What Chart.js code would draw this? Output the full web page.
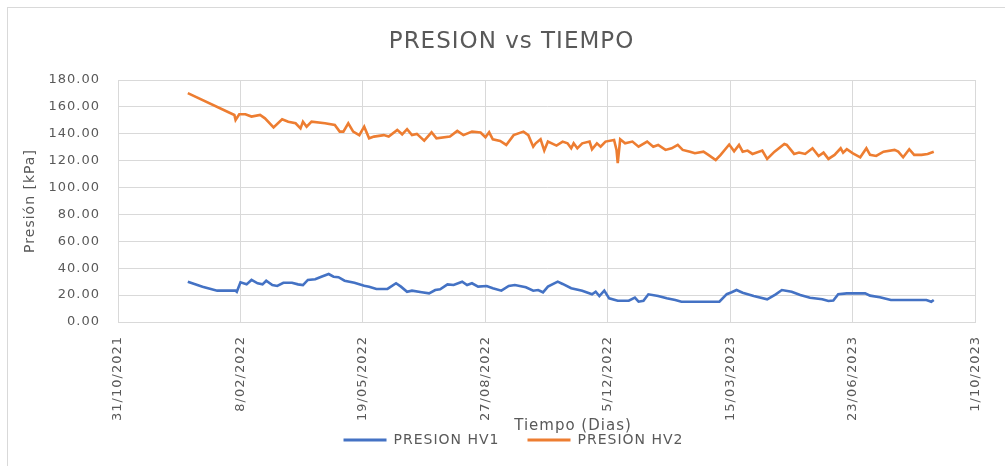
<!DOCTYPE html>
<html lang="es">
<head>
<meta charset="utf-8">
<title>PRESION vs TIEMPO</title>
<script src="https://cdn.jsdelivr.net/npm/chart.js@4.4.1/dist/chart.umd.min.js"></script>
<style>
  html, body { margin: 0; padding: 0; background: #ffffff; }
  #grafico { display: block; }
</style>
</head>
<body>
<canvas id="grafico" width="1005" height="466"></canvas>
<script>
// Fecha de origen del eje X y etiquetas cada 100 días
const fechaOrigen = '31/10/2021';
const etiquetasX = ['31/10/2021', '8/02/2022', '19/05/2022', '27/08/2022',
                    '5/12/2022', '15/03/2023', '23/06/2023', '1/10/2023'];

// PRESION HV1 [kPa]
const hv1Fechas = [
  '27/12/2021', '08/01/2022', '20/01/2022', '04/02/2022', '05/02/2022', '08/02/2022',
  '13/02/2022', '17/02/2022', '22/02/2022', '26/02/2022', '01/03/2022', '06/03/2022',
  '10/03/2022', '15/03/2022', '22/03/2022', '27/03/2022', '31/03/2022', '04/04/2022',
  '10/04/2022', '15/04/2022', '21/04/2022', '25/04/2022', '29/04/2022', '04/05/2022',
  '12/05/2022', '20/05/2022', '24/05/2022', '30/05/2022', '08/06/2022', '15/06/2022',
  '19/06/2022', '24/06/2022', '28/06/2022', '06/07/2022', '12/07/2022', '17/07/2022',
  '21/07/2022', '27/07/2022', '01/08/2022', '08/08/2022', '12/08/2022', '16/08/2022',
  '21/08/2022', '28/08/2022', '02/09/2022', '09/09/2022', '15/09/2022', '20/09/2022',
  '29/09/2022', '05/10/2022', '09/10/2022', '13/10/2022', '17/10/2022', '25/10/2022',
  '29/10/2022', '05/11/2022', '14/11/2022', '22/11/2022', '25/11/2022', '28/11/2022',
  '02/12/2022', '06/12/2022', '13/12/2022', '22/12/2022', '27/12/2022', '30/12/2022',
  '03/01/2023', '07/01/2023', '15/01/2023', '22/01/2023', '29/01/2023', '03/02/2023',
  '06/03/2023', '12/03/2023', '16/03/2023', '20/03/2023', '25/03/2023', '03/04/2023',
  '14/04/2023', '21/04/2023', '26/04/2023', '04/05/2023', '11/05/2023', '19/05/2023',
  '29/05/2023', '03/06/2023', '07/06/2023', '11/06/2023', '18/06/2023', '03/07/2023',
  '07/07/2023', '15/07/2023', '24/07/2023', '22/08/2023', '26/08/2023', '28/08/2023'
];
const hv1Valores = [
  30.0, 26.3, 23.3, 23.3, 22.5, 29.5,
  28.0, 31.3, 28.8, 28.0, 30.7, 27.5,
  26.8, 29.2, 29.2, 28.0, 27.5, 31.3,
  31.8, 33.7, 35.7, 33.7, 33.3, 30.7,
  29.2, 27.0, 26.3, 24.6, 24.6, 28.8,
  26.3, 22.5, 23.3, 22.1, 21.3, 23.8,
  24.3, 28.0, 27.5, 30.0, 27.5, 28.8,
  26.3, 26.8, 25.1, 23.3, 26.8, 27.5,
  25.8, 23.3, 23.8, 22.1, 26.3, 30.0,
  28.3, 25.1, 23.3, 20.6, 22.5, 19.3,
  23.3, 17.6, 15.8, 15.8, 18.1, 15.1,
  15.8, 20.6, 19.3, 17.6, 16.4, 15.1,
  15.1, 20.7, 22.1, 23.8, 21.8, 19.3,
  16.9, 20.6, 23.8, 22.5, 20.1, 18.1,
  16.9, 15.6, 16.0, 20.6, 21.3, 21.3,
  19.6, 18.4, 16.4, 16.4, 15.1, 16.4
];

// PRESION HV2 [kPa]
const hv2Fechas = [
  '27/12/2021', '03/02/2022', '04/02/2022', '07/02/2022', '12/02/2022', '17/02/2022',
  '24/02/2022', '28/02/2022', '07/03/2022', '14/03/2022', '19/03/2022', '25/03/2022',
  '29/03/2022', '31/03/2022', '03/04/2022', '07/04/2022', '18/04/2022', '26/04/2022',
  '30/04/2022', '03/05/2022', '07/05/2022', '11/05/2022', '16/05/2022', '20/05/2022',
  '24/05/2022', '28/05/2022', '05/06/2022', '09/06/2022', '16/06/2022', '20/06/2022',
  '24/06/2022', '28/06/2022', '02/07/2022', '08/07/2022', '14/07/2022', '18/07/2022',
  '29/07/2022', '04/08/2022', '09/08/2022', '16/08/2022', '23/08/2022', '27/08/2022',
  '30/08/2022', '02/09/2022', '08/09/2022', '13/09/2022', '19/09/2022', '27/09/2022',
  '01/10/2022', '05/10/2022', '07/10/2022', '11/10/2022', '14/10/2022', '17/10/2022',
  '24/10/2022', '29/10/2022', '02/11/2022', '05/11/2022', '07/11/2022', '10/11/2022',
  '14/11/2022', '20/11/2022', '22/11/2022', '26/11/2022', '29/11/2022', '03/12/2022',
  '10/12/2022', '12/12/2022', '13/12/2022', '15/12/2022', '19/12/2022', '25/12/2022',
  '30/12/2022', '06/01/2023', '11/01/2023', '15/01/2023', '21/01/2023', '26/01/2023',
  '31/01/2023', '04/02/2023', '10/02/2023', '14/02/2023', '21/02/2023', '25/02/2023',
  '03/03/2023', '07/03/2023', '14/03/2023', '18/03/2023', '22/03/2023', '25/03/2023',
  '29/03/2023', '02/04/2023', '10/04/2023', '14/04/2023', '20/04/2023', '28/04/2023',
  '30/04/2023', '06/05/2023', '10/05/2023', '15/05/2023', '21/05/2023', '26/05/2023',
  '30/05/2023', '03/06/2023', '08/06/2023', '13/06/2023', '15/06/2023', '18/06/2023',
  '23/06/2023', '29/06/2023', '04/07/2023', '07/07/2023', '12/07/2023', '18/07/2023',
  '27/07/2023', '30/07/2023', '03/08/2023', '08/08/2023', '12/08/2023', '18/08/2023',
  '23/08/2023', '28/08/2023'
];
const hv2Valores = [
  170.2, 154.0, 150.3, 154.5, 154.5, 152.8,
  154.0, 151.5, 144.8, 150.8, 149.0, 147.8,
  144.0, 149.0, 145.3, 149.0, 147.8, 146.6,
  141.6, 141.6, 147.8, 141.6, 139.0, 145.3,
  136.6, 137.9, 139.0, 137.9, 142.9, 139.6,
  143.4, 139.0, 139.9, 134.9, 141.1, 136.6,
  137.9, 142.1, 139.0, 141.6, 140.9, 137.4,
  141.1, 135.9, 134.7, 131.7, 139.0, 141.6,
  139.0, 130.4, 132.9, 135.9, 127.5, 134.2,
  131.2, 134.2, 132.9, 129.2, 132.9, 129.2,
  132.9, 134.2, 128.5, 132.9, 130.4, 134.2,
  135.4, 128.0, 118.1, 135.9, 132.9, 134.2,
  130.4, 134.2, 130.4, 131.7, 128.0, 129.2,
  131.7, 128.0, 126.7, 125.5, 126.7, 124.3,
  120.5, 124.3, 132.0, 127.0, 131.7, 126.7,
  127.5, 125.0, 127.5, 121.3, 126.7, 132.4,
  131.7, 125.0, 126.0, 125.0, 129.2, 123.5,
  126.0, 121.3, 124.3, 129.2, 126.0, 128.5,
  125.5, 122.5, 129.2, 124.3, 123.5, 126.7,
  128.0, 126.7, 122.5, 128.5, 124.3, 124.3,
  125.0, 126.7
];

// Días transcurridos desde la fecha de origen
function aUTC(texto) {
  const [d, m, a] = texto.split('/').map(Number);
  return Date.UTC(a, m - 1, d);
}
const origenUTC = aUTC(fechaOrigen);
function diasDesdeOrigen(texto) {
  return Math.round((aUTC(texto) - origenUTC) / 86400000);
}
function serie(fechas, valores) {
  return fechas.map((f, i) => ({ x: diasDesdeOrigen(f), y: valores[i] }));
}

const GRIS_TEXTO = '#595959';
const GRIS_REJILLA = '#d9d9d9';
const FUENTE = 'DejaVu Sans';

// Fondo, marco del gráfico, espaciado de letras, ubicación del título
// y la leyenda, y título del eje X
const decoracion = {
  id: 'decoracion',
  beforeLayout(chart) {
    chart.ctx.letterSpacing = '1px';
  },
  afterLayout(chart) {
    if (chart.titleBlock) {
      chart.titleBlock.left += 16;
      chart.titleBlock.right += 16;
    }
    const ley = chart.legend;
    if (ley) {
      ley.left += 18;
      ley.right += 18;
      ley.top -= 16;
      ley.bottom -= 16;
    }
  },
  beforeDraw(chart) {
    const c = chart.ctx;
    c.letterSpacing = '1px';
    c.save();
    c.fillStyle = '#ffffff';
    c.fillRect(0, 0, chart.width, chart.height);
    c.strokeStyle = GRIS_REJILLA;
    c.lineWidth = 1;
    c.strokeRect(7.5, 7.5, chart.width + 10, chart.height + 10);
    c.restore();
  },
  afterDraw(chart) {
    const c = chart.ctx;
    c.save();
    c.letterSpacing = '1px';
    c.font = '15px "' + FUENTE + '"';
    c.fillStyle = GRIS_TEXTO;
    c.textAlign = 'center';
    c.textBaseline = 'middle';
    c.fillText('Tiempo (Dias)', 573, 426);
    c.restore();
  }
};

new Chart(document.getElementById('grafico'), {
  type: 'line',
  data: {
    datasets: [
      {
        label: 'PRESION HV1',
        data: serie(hv1Fechas, hv1Valores),
        borderColor: '#4472C4',
        backgroundColor: '#4472C4',
        borderWidth: 2.6,
        pointRadius: 0,
        tension: 0
      },
      {
        label: 'PRESION HV2',
        data: serie(hv2Fechas, hv2Valores),
        borderColor: '#ED7D31',
        backgroundColor: '#ED7D31',
        borderWidth: 2.6,
        pointRadius: 0,
        tension: 0
      }
    ]
  },
  options: {
    responsive: false,
    animation: false,
    devicePixelRatio: 1,
    layout: { padding: { left: 8, right: 22, top: 8, bottom: 0 } },
    plugins: {
      title: {
        display: true,
        text: 'PRESION vs TIEMPO',
        color: GRIS_TEXTO,
        font: { family: FUENTE, size: 23, weight: 'normal', lineHeight: 1.2 },
        padding: { top: 20.2, bottom: 24.2 }
      },
      legend: {
        position: 'bottom',
        maxHeight: 45,
        labels: {
          boxWidth: 43,
          boxHeight: 3,
          padding: 28,
          color: GRIS_TEXTO,
          font: { family: FUENTE, size: 14 },
          generateLabels(chart) {
            return Chart.defaults.plugins.legend.labels.generateLabels(chart)
              .map(item => Object.assign(item, { lineWidth: 0 }));
          }
        }
      },
      tooltip: { enabled: false }
    },
    scales: {
      x: {
        type: 'linear',
        min: 0,
        max: 700,
        afterFit(scale) { scale.height = 99; },
        ticks: {
          stepSize: 100,
          autoSkip: false,
          minRotation: 90,
          maxRotation: 90,
          padding: 14,
          color: GRIS_TEXTO,
          font: { family: FUENTE, size: 13 },
          callback: (valor) => etiquetasX[Math.round(valor / 100)]
        },
        grid: { color: GRIS_REJILLA, lineWidth: 1, drawTicks: false },
        border: { color: GRIS_REJILLA, width: 1 }
      },
      y: {
        min: 0,
        max: 180,
        afterFit(scale) { scale.width = 110; },
        ticks: {
          stepSize: 20,
          padding: 18,
          color: GRIS_TEXTO,
          font: { family: FUENTE, size: 13 },
          callback: (valor) => valor.toFixed(2)
        },
        grid: { color: GRIS_REJILLA, lineWidth: 1, drawTicks: false },
        border: { color: GRIS_REJILLA, width: 1 },
        title: {
          display: true,
          text: 'Presión [kPa]',
          color: GRIS_TEXTO,
          font: { family: FUENTE, size: 14, lineHeight: 1.2 },
          padding: { top: 13.6, bottom: 0 }
        }
      }
    }
  },
  plugins: [decoracion]
});
</script>
</body>
</html>
